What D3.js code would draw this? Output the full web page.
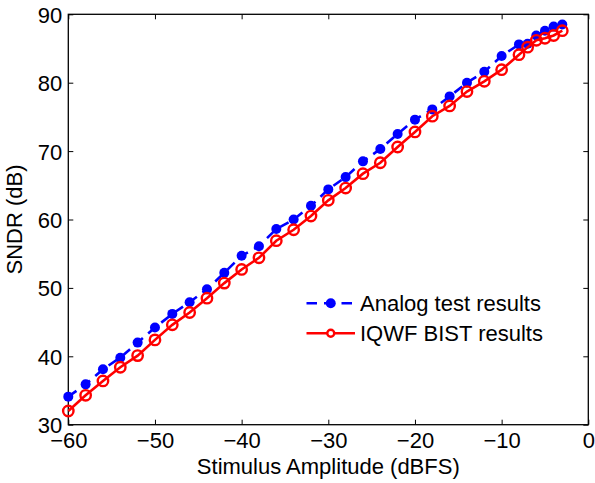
<!DOCTYPE html>
<html><head><meta charset="utf-8">
<script src="https://cdn.jsdelivr.net/npm/d3@7"></script>
<style>
html,body{margin:0;padding:0;background:#fff;}
svg{display:block;font-family:"Liberation Sans",Arial,sans-serif;}
</style></head>
<body>
<svg id="chart" width="595" height="483"></svg>
<script>
const amplitudes = [-60,-58,-56,-54,-52,-50,-48,-46,-44,-42,-40,-38,-36,-34,-32,-30,-28,-26,-24,-22,-20,-18,-16,-14,-12,-10,-8,-7,-6,-5,-4,-3];
const analogSNDR = [34.1,35.9,38.1,39.8,42.0,44.2,46.2,47.9,49.8,52.2,54.7,56.1,58.6,60.0,62.0,64.4,66.2,68.5,70.3,72.5,74.6,76.1,78.0,80.0,81.6,83.9,85.6,85.7,86.9,87.6,88.2,88.5];
const bistSNDR = [32.0,34.3,36.4,38.4,40.1,42.4,44.6,46.4,48.5,50.7,52.7,54.4,56.9,58.5,60.5,62.8,64.6,66.7,68.3,70.6,72.8,75.1,76.6,78.7,80.2,81.9,84.1,85.2,86.2,86.5,86.9,87.6];
const xTicks = [-60,-50,-40,-30,-20,-10,0];
const yTicks = [30,40,50,60,70,80,90];
const seriesNames = ["Analog test results","IQWF BIST results"];

const svg = d3.select("#chart");
const L = 68.3, R = 588.3, T = 14.3, B = 424.7;
const x = d3.scaleLinear().domain([-60,0]).range([L,R]);
const y = d3.scaleLinear().domain([30,90]).range([B,T]);
const blue = "#0000ff", red = "#ff0000";
const FS = "22px";

const fmt = d => d < 0 ? "\u2212" + Math.abs(d) : String(d);

// axes
const tickLen = 5;
const gx = svg.append("g").attr("transform",`translate(0,${B})`)
  .call(d3.axisBottom(x).tickValues(xTicks).tickFormat(fmt).tickSizeInner(-tickLen).tickSizeOuter(0).tickPadding(8));
const gxTop = svg.append("g").attr("transform",`translate(0,${T})`)
  .call(d3.axisTop(x).tickValues(xTicks).tickFormat("").tickSizeInner(-tickLen).tickSizeOuter(0));
const gy = svg.append("g").attr("transform",`translate(${L},0)`)
  .call(d3.axisLeft(y).tickValues(yTicks).tickFormat(fmt).tickSizeInner(-tickLen).tickSizeOuter(0).tickPadding(6));
const gyR = svg.append("g").attr("transform",`translate(${R},0)`)
  .call(d3.axisRight(y).tickValues(yTicks).tickFormat("").tickSizeInner(-tickLen).tickSizeOuter(0));
[gx,gxTop,gy,gyR].forEach(g=>{
  g.select(".domain").remove();
  g.selectAll(".tick line").attr("stroke","#000").attr("stroke-width",1);
  g.selectAll(".tick text").attr("fill","#000").style("font-size",FS).style("font-family","Liberation Sans, Arial, sans-serif");
});
gx.selectAll(".tick text").attr("dy","0.71em");
gy.selectAll(".tick text").attr("dy","0.36em");
// box
svg.append("rect").attr("x",L).attr("y",T).attr("width",R-L).attr("height",B-T)
  .attr("fill","none").attr("stroke","#000").attr("stroke-width",1.3);

// axis labels
svg.append("text").attr("x",(L+R)/2).attr("y",474).attr("text-anchor","middle")
  .style("font-size",FS).text("Stimulus Amplitude (dBFS)");
svg.append("text").attr("transform",`translate(22,${(T+B)/2}) rotate(-90)`).attr("text-anchor","middle")
  .style("font-size",FS).text("SNDR (dB)");

const line = d3.line().x(d=>x(d[0])).y(d=>y(d[1]));
const aData = amplitudes.map((a,i)=>[a,analogSNDR[i]]);
const bData = amplitudes.map((a,i)=>[a,bistSNDR[i]]);

const plot = svg.append("g");
plot.append("path").datum(aData).attr("d",line).attr("fill","none")
  .attr("stroke",blue).attr("stroke-width",2.6).attr("stroke-dasharray","10,7");
plot.selectAll("circle.a").data(aData).enter().append("circle").attr("class","a")
  .attr("cx",d=>x(d[0])).attr("cy",d=>y(d[1])).attr("r",5).attr("fill",blue);
plot.append("path").datum(bData).attr("d",line).attr("fill","none")
  .attr("stroke",red).attr("stroke-width",2.6);
plot.selectAll("circle.b").data(bData).enter().append("circle").attr("class","b")
  .attr("cx",d=>x(d[0])).attr("cy",d=>y(d[1])).attr("r",5.2).attr("fill","none")
  .attr("stroke",red).attr("stroke-width",2.4);

// legend
const lg = svg.append("g");
const lx0 = 306.5, lx1 = 355, ly1 = 303.3, ly2 = 333.3;
lg.append("line").attr("x1",lx0).attr("x2",lx1).attr("y1",ly1).attr("y2",ly1)
  .attr("stroke",blue).attr("stroke-width",2.6).attr("stroke-dasharray","10.5,7");
lg.append("circle").attr("cx",(lx0+lx1)/2).attr("cy",ly1).attr("r",5).attr("fill",blue);
lg.append("line").attr("x1",lx0).attr("x2",lx1).attr("y1",ly2).attr("y2",ly2)
  .attr("stroke",red).attr("stroke-width",2.6);
lg.append("circle").attr("cx",(lx0+lx1)/2).attr("cy",ly2).attr("r",3.5).attr("fill","#fff")
  .attr("stroke",red).attr("stroke-width",2.4);
lg.append("text").attr("x",360).attr("y",ly1).attr("dy","0.36em").style("font-size",FS).text(seriesNames[0]);
lg.append("text").attr("x",360).attr("y",ly2).attr("dy","0.36em").style("font-size",FS).text(seriesNames[1]);
</script>
</body></html>
